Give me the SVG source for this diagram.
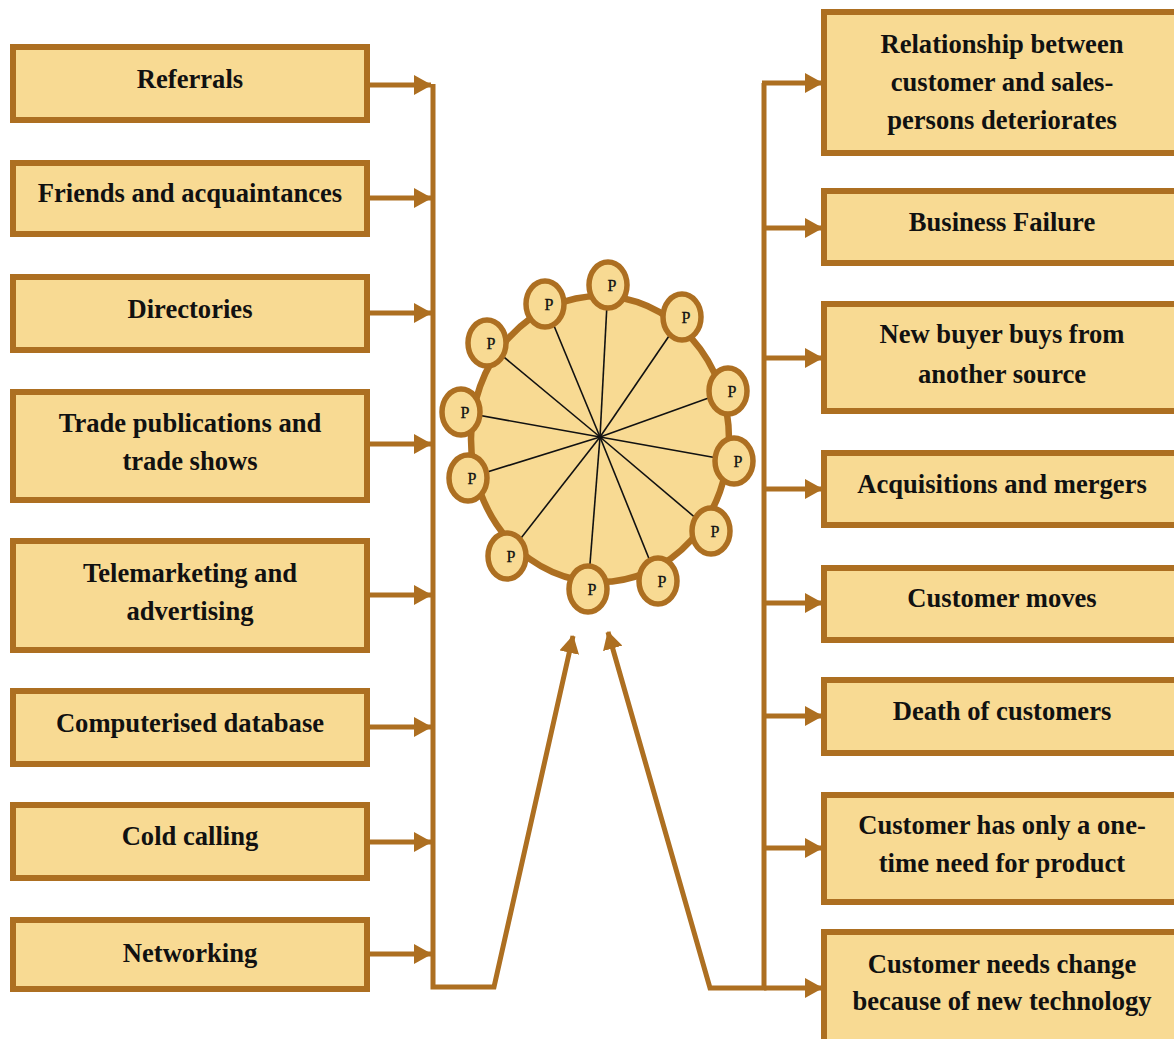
<svg xmlns="http://www.w3.org/2000/svg" width="1174" height="1039" viewBox="0 0 1174 1039">
<style>
.box{fill:#F8DA93;stroke:#AD6F21;stroke-width:6}
.lbl{font-family:"Liberation Serif","Times New Roman",serif;font-weight:bold;font-size:26.6px;fill:#111;text-anchor:middle}
.con{fill:none;stroke:#AD6F21;stroke-width:5}
.spoke{stroke:#111;stroke-width:1.6}
.pc{fill:#F8DA93;stroke:#AD6F21;stroke-width:5.5}
.pt{font-family:"Liberation Serif","Times New Roman",serif;font-size:16px;fill:#111;stroke:#111;stroke-width:0.3;text-anchor:middle}
</style>
<defs>
<marker id="ah" markerUnits="userSpaceOnUse" markerWidth="18" markerHeight="20" viewBox="0 0 18 20" refX="17" refY="10" orient="auto">
<path d="M0,0 L18,10 L0,20 Z" fill="#AD6F21"/>
</marker>
</defs>
<rect width="1174" height="1039" fill="#fff"/>

<g id="connectors">
<line class="con" x1="370" y1="85" x2="431" y2="85" marker-end="url(#ah)"/>
<line class="con" x1="370" y1="198" x2="431" y2="198" marker-end="url(#ah)"/>
<line class="con" x1="370" y1="313" x2="431" y2="313" marker-end="url(#ah)"/>
<line class="con" x1="370" y1="444" x2="431" y2="444" marker-end="url(#ah)"/>
<line class="con" x1="370" y1="595" x2="431" y2="595" marker-end="url(#ah)"/>
<line class="con" x1="370" y1="727" x2="431" y2="727" marker-end="url(#ah)"/>
<line class="con" x1="370" y1="842" x2="431" y2="842" marker-end="url(#ah)"/>
<line class="con" x1="370" y1="954" x2="431" y2="954" marker-end="url(#ah)"/>
<polyline class="con" points="433,84 433,987 494,987 573,636" marker-end="url(#ah)"/>
<polyline class="con" points="764,83 764,988 710,988 608,632" marker-end="url(#ah)"/>
<line class="con" x1="762" y1="83" x2="822" y2="83" marker-end="url(#ah)"/>
<line class="con" x1="764" y1="228" x2="822" y2="228" marker-end="url(#ah)"/>
<line class="con" x1="764" y1="358" x2="822" y2="358" marker-end="url(#ah)"/>
<line class="con" x1="764" y1="489" x2="822" y2="489" marker-end="url(#ah)"/>
<line class="con" x1="764" y1="603" x2="822" y2="603" marker-end="url(#ah)"/>
<line class="con" x1="764" y1="716" x2="822" y2="716" marker-end="url(#ah)"/>
<line class="con" x1="764" y1="848" x2="822" y2="848" marker-end="url(#ah)"/>
<line class="con" x1="764" y1="988" x2="822" y2="988" marker-end="url(#ah)"/>
</g>

<g id="referrals"><rect class="box" x="13" y="47" width="354" height="73"/><text class="lbl" x="190" y="88">Referrals</text></g>
<g id="friends"><rect class="box" x="13" y="163" width="354" height="71"/><text class="lbl" x="190" y="202">Friends and acquaintances</text></g>
<g id="directories"><rect class="box" x="13" y="277" width="354" height="73"/><text class="lbl" x="190" y="318">Directories</text></g>
<g id="trade"><rect class="box" x="13" y="392" width="354" height="108"/><text class="lbl" x="190" y="432">Trade publications and</text><text class="lbl" x="190" y="470">trade shows</text></g>
<g id="telemarketing"><rect class="box" x="13" y="541" width="354" height="109"/><text class="lbl" x="190" y="582">Telemarketing and</text><text class="lbl" x="190" y="620">advertising</text></g>
<g id="database"><rect class="box" x="13" y="691" width="354" height="73"/><text class="lbl" x="190" y="732">Computerised database</text></g>
<g id="cold"><rect class="box" x="13" y="805" width="354" height="73"/><text class="lbl" x="190" y="845">Cold calling</text></g>
<g id="networking"><rect class="box" x="13" y="920" width="354" height="69"/><text class="lbl" x="190" y="962">Networking</text></g>

<g id="relationship"><rect class="box" x="824" y="12" width="356" height="141"/><text class="lbl" x="1002" y="53">Relationship between</text><text class="lbl" x="1002" y="91">customer and sales-</text><text class="lbl" x="1002" y="129">persons deteriorates</text></g>
<g id="failure"><rect class="box" x="824" y="191" width="356" height="72"/><text class="lbl" x="1002" y="231">Business Failure</text></g>
<g id="newbuyer"><rect class="box" x="824" y="304" width="356" height="107"/><text class="lbl" x="1002" y="343">New buyer buys from</text><text class="lbl" x="1002" y="383">another source</text></g>
<g id="acquisitions"><rect class="box" x="824" y="453" width="356" height="72"/><text class="lbl" x="1002" y="493">Acquisitions and mergers</text></g>
<g id="moves"><rect class="box" x="824" y="568" width="356" height="72"/><text class="lbl" x="1002" y="607">Customer moves</text></g>
<g id="death"><rect class="box" x="824" y="680" width="356" height="73"/><text class="lbl" x="1002" y="720">Death of customers</text></g>
<g id="onetime"><rect class="box" x="824" y="795" width="356" height="107"/><text class="lbl" x="1002" y="834">Customer has only a one-</text><text class="lbl" x="1002" y="872">time need for product</text></g>
<g id="technology"><rect class="box" x="824" y="932" width="356" height="110"/><text class="lbl" x="1002" y="973">Customer needs change</text><text class="lbl" x="1002" y="1010">because of new technology</text></g>

<g id="wheel">
<ellipse cx="600" cy="439" rx="129" ry="143" fill="#F8DA93" stroke="#AD6F21" stroke-width="6.5"/>
<g class="spoke">
<line x1="600" y1="437" x2="608" y2="285"/>
<line x1="600" y1="437" x2="545" y2="304"/>
<line x1="600" y1="437" x2="487" y2="343"/>
<line x1="600" y1="437" x2="461" y2="412"/>
<line x1="600" y1="437" x2="468" y2="478"/>
<line x1="600" y1="437" x2="507" y2="556"/>
<line x1="600" y1="437" x2="588" y2="589"/>
<line x1="600" y1="437" x2="658" y2="581"/>
<line x1="600" y1="437" x2="711" y2="531"/>
<line x1="600" y1="437" x2="734" y2="461"/>
<line x1="600" y1="437" x2="728" y2="391"/>
<line x1="600" y1="437" x2="682" y2="317"/>
</g>
<g id="p1"><ellipse class="pc" cx="608" cy="285" rx="19" ry="23"/><text class="pt" x="612" y="291">P</text></g>
<g id="p2"><ellipse class="pc" cx="545" cy="304" rx="19" ry="23"/><text class="pt" x="549" y="310">P</text></g>
<g id="p3"><ellipse class="pc" cx="487" cy="343" rx="19" ry="23"/><text class="pt" x="491" y="349">P</text></g>
<g id="p4"><ellipse class="pc" cx="461" cy="412" rx="19" ry="23"/><text class="pt" x="465" y="418">P</text></g>
<g id="p5"><ellipse class="pc" cx="468" cy="478" rx="19" ry="23"/><text class="pt" x="472" y="484">P</text></g>
<g id="p6"><ellipse class="pc" cx="507" cy="556" rx="19" ry="23"/><text class="pt" x="511" y="562">P</text></g>
<g id="p7"><ellipse class="pc" cx="588" cy="589" rx="19" ry="23"/><text class="pt" x="592" y="595">P</text></g>
<g id="p8"><ellipse class="pc" cx="658" cy="581" rx="19" ry="23"/><text class="pt" x="662" y="587">P</text></g>
<g id="p9"><ellipse class="pc" cx="711" cy="531" rx="19" ry="23"/><text class="pt" x="715" y="537">P</text></g>
<g id="p10"><ellipse class="pc" cx="734" cy="461" rx="19" ry="23"/><text class="pt" x="738" y="467">P</text></g>
<g id="p11"><ellipse class="pc" cx="728" cy="391" rx="19" ry="23"/><text class="pt" x="732" y="397">P</text></g>
<g id="p12"><ellipse class="pc" cx="682" cy="317" rx="19" ry="23"/><text class="pt" x="686" y="323">P</text></g>
</g>
</svg>
